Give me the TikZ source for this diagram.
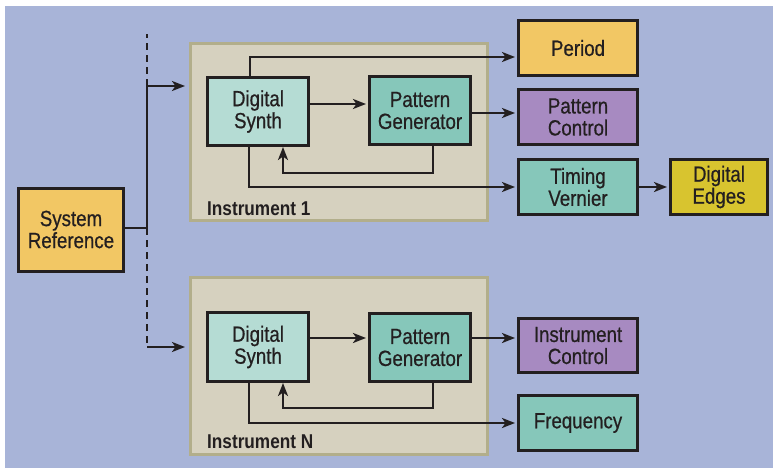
\documentclass[tikz,border=0pt]{standalone}
\usepackage{fontspec}
\setmainfont{Liberation Sans}[FakeStretch=0.85]
\newfontfamily\boxfont{Liberation Sans}[FakeStretch=0.85, FakeBold=0.6]
\newfontfamily\tagfont{Liberation Sans}[FakeStretch=0.86]
\usetikzlibrary{arrows.meta}

\definecolor{bgblue}{HTML}{A8B4D8}
\definecolor{panel}{HTML}{D6D1BF}
\definecolor{panelrim}{HTML}{B2AE8B}
\definecolor{ink}{HTML}{231F20}
\definecolor{gold}{HTML}{F2C764}
\definecolor{lilac}{HTML}{A78AC1}
\definecolor{teal}{HTML}{86C7BA}
\definecolor{paleteal}{HTML}{B5DCD4}
\definecolor{mustard}{HTML}{D8C42F}

\begin{document}
\begin{tikzpicture}[x=1pt,y=-1pt,
  box/.style={draw=ink, line width=3pt, rectangle, align=center, text=ink,
    inner sep=0pt, font=\boxfont\fontsize{22}{22}\selectfont},
  panelbox/.style={draw=panelrim, fill=panel, line width=3pt, rectangle, inner sep=0pt},
  wire/.style={draw=ink, line width=2.6pt},
  arr/.style={wire, -{Stealth[length=13pt,width=10pt,inset=3.5pt]}, shorten >=2pt},
  tag/.style={anchor=base west, text=ink, inner sep=0pt,
    font=\tagfont\bfseries\fontsize{20}{20}\selectfont}
]
\useasboundingbox (0,0) rectangle (773,468);
\fill[bgblue] (5,6) rectangle (773,468);

% instrument panels
\node[panelbox, minimum width=297pt, minimum height=177pt] (inst1) at (339,132) {};
\node[panelbox, minimum width=297pt, minimum height=177pt] (instN) at (339,366) {};
\node[tag] (tag1) at (207,215) {Instrument 1};
\node[tag] (tagN) at (207,448) {Instrument N};

% source
\node[box, fill=gold, minimum width=105pt, minimum height=83pt] (sysref) at (71,229.5) {System\\Reference};

% instrument 1 blocks
\node[box, fill=paleteal, minimum width=101pt, minimum height=68pt] (synth1) at (258,111.5) {Digital\\Synth};
\node[box, fill=teal, minimum width=101pt, minimum height=68pt] (pg1) at (420,110.5) {Pattern\\Generator};

% instrument N blocks
\node[box, fill=paleteal, minimum width=101pt, minimum height=69pt] (synthN) at (258,347) {Digital\\Synth};
\node[box, fill=teal, minimum width=101pt, minimum height=68pt] (pgN) at (420,347.5) {Pattern\\Generator};

% outputs
\node[box, fill=gold, minimum width=119pt, minimum height=55pt] (period) at (578,48) {Period};
\node[box, fill=lilac, minimum width=119pt, minimum height=55pt] (patctl) at (578,117) {Pattern\\Control};
\node[box, fill=teal, minimum width=119pt, minimum height=55pt] (timing) at (578,187) {Timing\\Vernier};
\node[box, fill=mustard, minimum width=97pt, minimum height=55pt] (edges) at (719,187) {Digital\\Edges};
\node[box, fill=lilac, minimum width=119pt, minimum height=54pt] (instctl) at (578,345.5) {Instrument\\Control};
\node[box, fill=teal, minimum width=119pt, minimum height=55pt] (freq) at (578,423) {Frequency};

% reference distribution bus
\coordinate (junc) at (147,228);
\coordinate (busTop) at (147,34);
\coordinate (feed1) at (187,86);
\coordinate (busLow) at (147,347);
\coordinate (feedN) at (187,347);
\draw[wire] (sysref.east |- junc) -- (junc);
\draw[arr] (junc) |- (feed1);
\draw[wire, dash pattern=on 7pt off 5pt] (junc |- feed1) -- (busTop);
\draw[wire, dash pattern=on 7pt off 5pt] (junc) -- (busLow);
\draw[arr] (busLow) -- (feedN);

% instrument 1 connections
\draw[arr] ([yshift=7.5pt]synth1.east) -- ([yshift=7.5pt]synth1.east -| pg1.west);
\draw[arr] ([xshift=-8pt]synth1.north) |- ([yshift=-9pt]period.west);
\draw[arr] ([yshift=-2.5pt]pg1.east) -- ([yshift=-2.5pt]pg1.east -| patctl.west);
\draw[arr] ([xshift=-9pt]synth1.south) |- (timing.west);
\coordinate (loop1) at (283,173);
\draw[arr, shorten >=0pt] ([xshift=13pt]pg1.south) |- (loop1) -- ([xshift=25pt]synth1.south);
\draw[arr] (timing.east) -- (edges.west);

% instrument N connections
\draw[arr] ([yshift=9pt]synthN.east) -- ([yshift=9pt]synthN.east -| pgN.west);
\draw[arr] ([yshift=9.5pt]pgN.east) -- ([yshift=9.5pt]pgN.east -| instctl.west);
\coordinate (loopN) at (283,408);
\draw[arr, shorten >=0pt] ([xshift=13pt]pgN.south) |- (loopN) -- ([xshift=25pt]synthN.south);
\draw[arr] ([xshift=-9pt]synthN.south) |- (freq.west);
\end{tikzpicture}
\end{document}
